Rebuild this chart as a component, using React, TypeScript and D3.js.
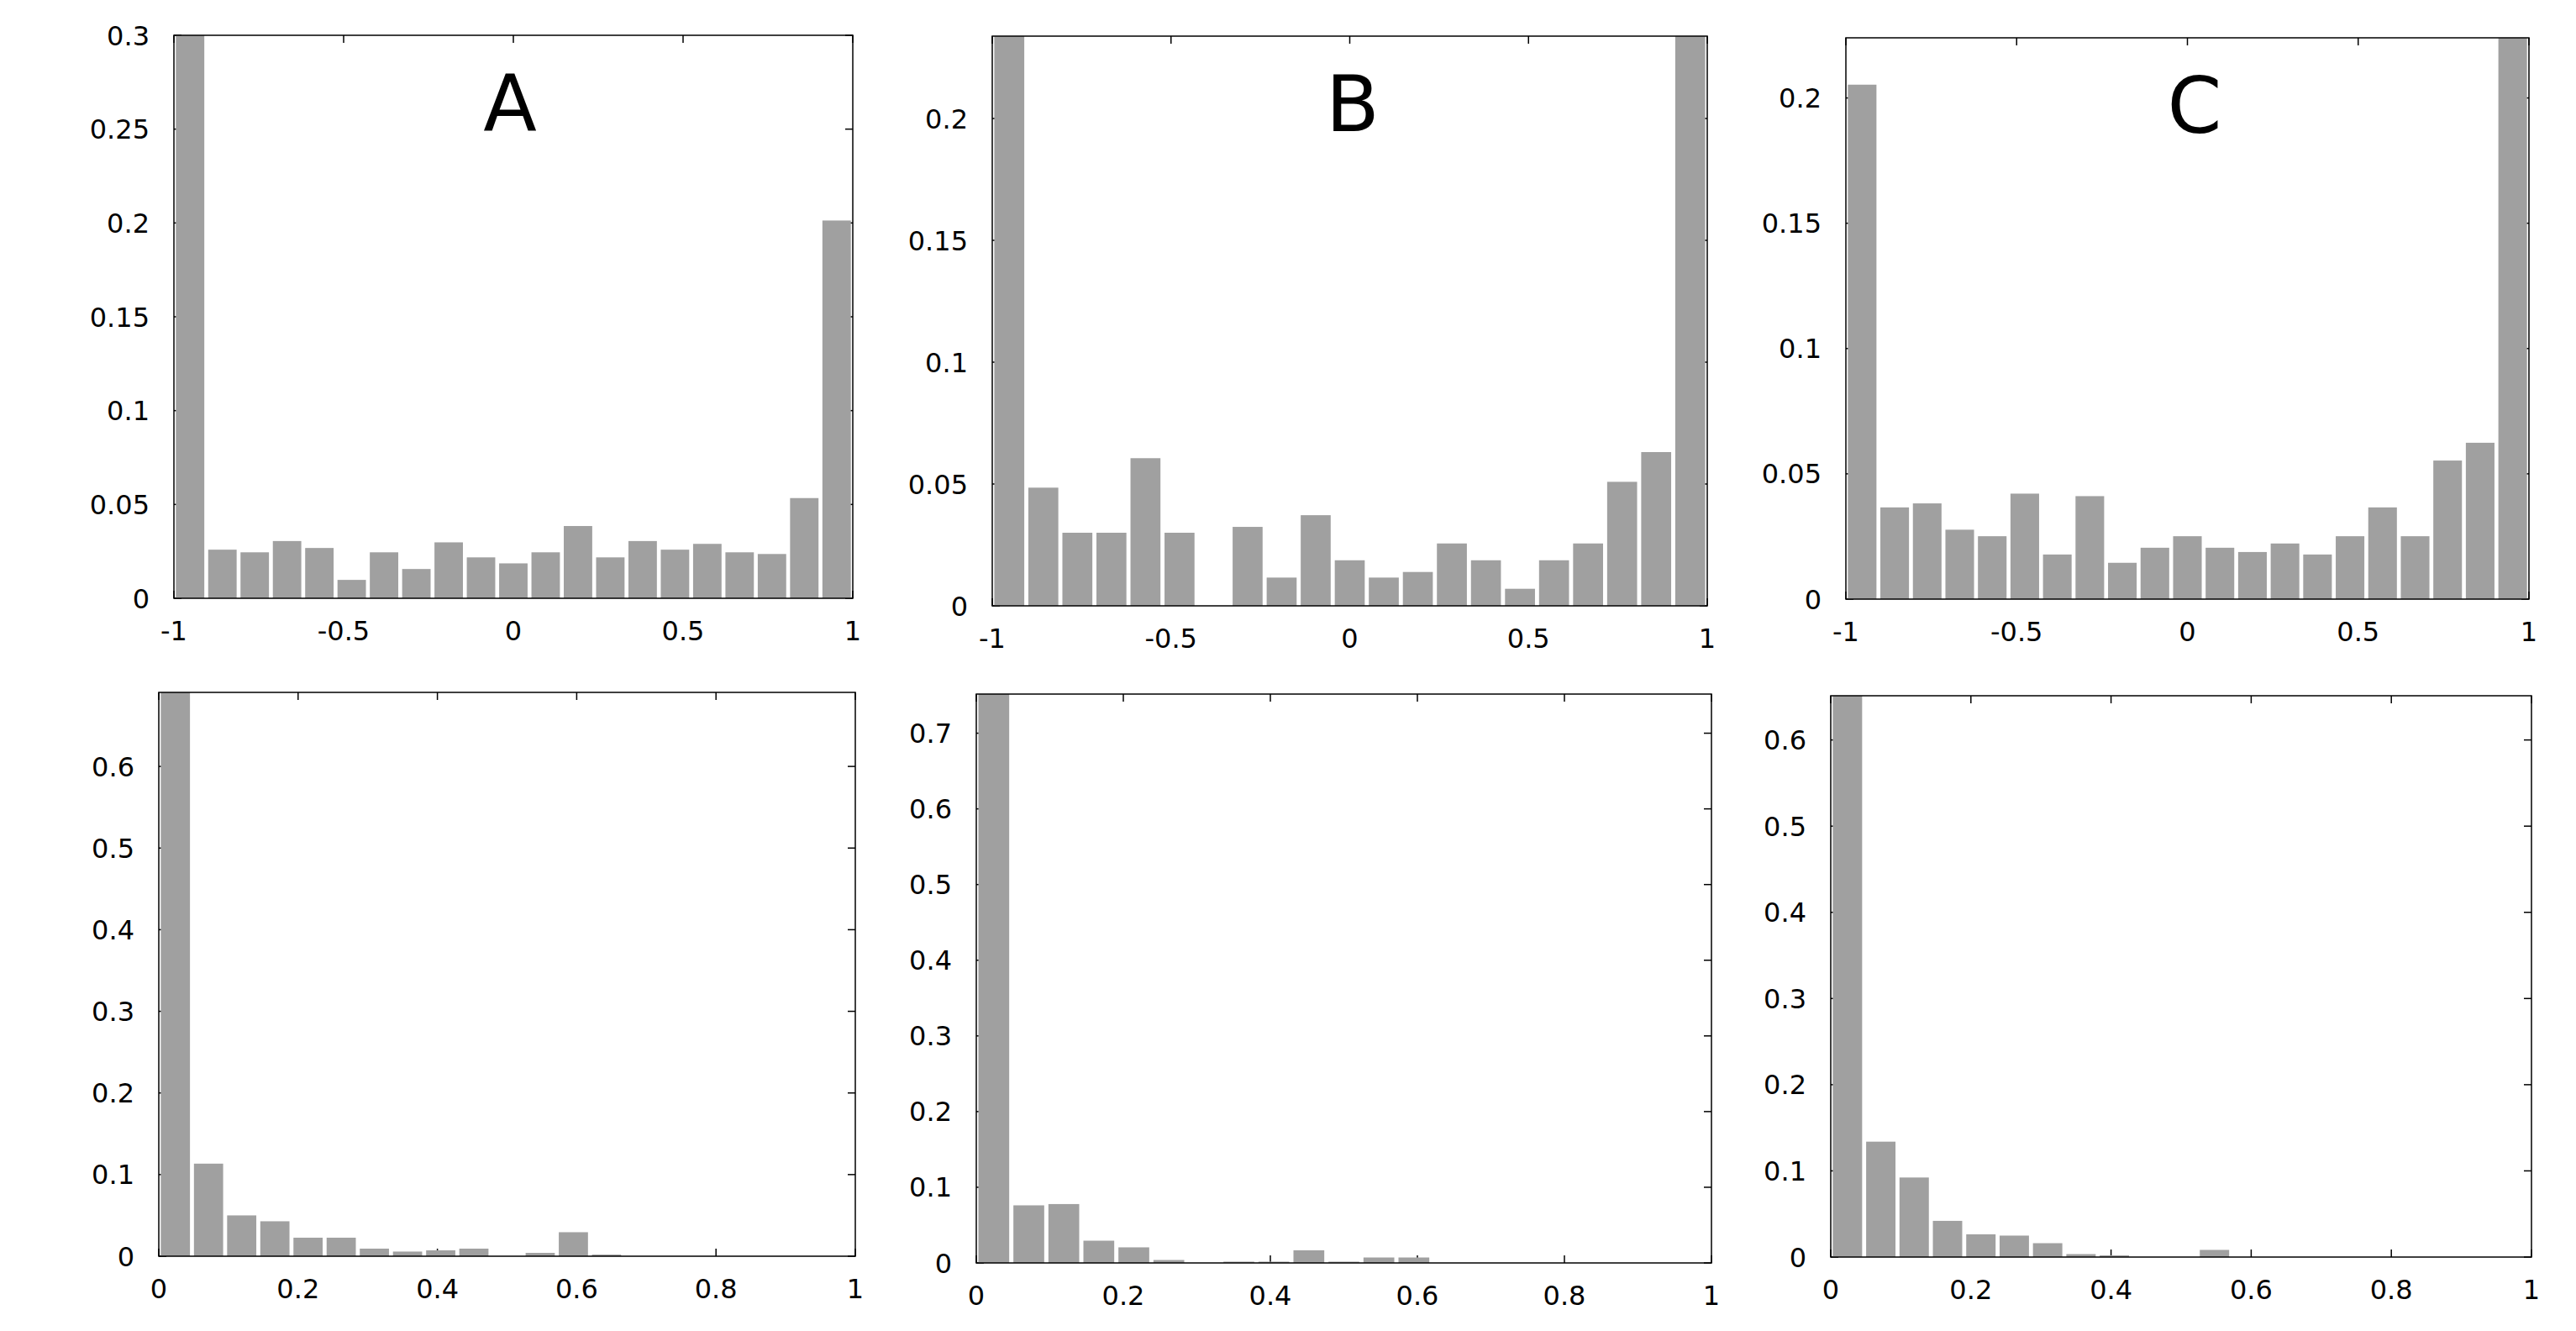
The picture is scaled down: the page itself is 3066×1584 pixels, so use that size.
import React from "react";
import * as d3 from "d3";

// 21 bins per histogram
const binCount = 21;

// top row, x from -1 to 1
const topA = [0.33, 0.0259, 0.0245, 0.0305, 0.0268, 0.0098, 0.0245, 0.0156, 0.0298, 0.0218, 0.0186, 0.0245, 0.0385, 0.0218, 0.0305, 0.0259, 0.029, 0.0245, 0.0236, 0.0534, 0.2013];
const topB = [0.26, 0.0485, 0.030, 0.030, 0.0606, 0.030, 0, 0.0324, 0.0116, 0.0372, 0.0187, 0.0116, 0.0139, 0.0256, 0.0187, 0.0070, 0.0187, 0.0256, 0.0509, 0.0631, 0.26];
const topC = [0.2053, 0.0366, 0.0382, 0.0277, 0.0251, 0.0421, 0.0178, 0.0411, 0.0145, 0.0205, 0.0251, 0.0205, 0.0188, 0.0222, 0.0178, 0.0251, 0.0366, 0.0251, 0.0553, 0.0624, 0.25];

// bottom row, x from 0 to 1
const bottomA = [0.72, 0.1134, 0.050, 0.0428, 0.0227, 0.0227, 0.0093, 0.0057, 0.0072, 0.0093, 0, 0.0041, 0.0294, 0.002, 0, 0, 0, 0, 0, 0, 0];
const bottomB = [0.8, 0.0761, 0.0778, 0.0294, 0.0206, 0.0039, 0, 0.0017, 0.0017, 0.0167, 0.0017, 0.0072, 0.0072, 0, 0, 0, 0, 0, 0, 0, 0];
const bottomC = [0.7, 0.1339, 0.0923, 0.042, 0.0264, 0.0249, 0.0161, 0.0034, 0.002, 0, 0, 0.0083, 0, 0, 0, 0, 0, 0, 0, 0, 0];

const topXTicks = [-1, -0.5, 0, 0.5, 1];
const bottomXTicks = [0, 0.2, 0.4, 0.6, 0.8, 1];
const topATicks = [0, 0.05, 0.1, 0.15, 0.2, 0.25, 0.3];
const topBCTicks = [0, 0.05, 0.1, 0.15, 0.2];
const bottomACTicks = [0, 0.1, 0.2, 0.3, 0.4, 0.5, 0.6];
const bottomBTicks = [0, 0.1, 0.2, 0.3, 0.4, 0.5, 0.6, 0.7];

const barColor = "#a0a0a0";
const font = "'DejaVu Sans', sans-serif";

const panels = [
    {values: topA, xDomain: [-1, 1], yMax: 0.3, xTicks: topXTicks, yTicks: topATicks, label: "A", labelAt: -0.01,
        box: {x0: 207, x1: 1015, y0: 42, y1: 712}},
    {values: topB, xDomain: [-1, 1], yMax: 0.2338, xTicks: topXTicks, yTicks: topBCTicks, label: "B", labelAt: 0.008,
        box: {x0: 1181, x1: 2032, y0: 43, y1: 721}},
    {values: topC, xDomain: [-1, 1], yMax: 0.224, xTicks: topXTicks, yTicks: topBCTicks, label: "C", labelAt: 0.021,
        box: {x0: 2197, x1: 3010, y0: 45, y1: 713}},
    {values: bottomA, xDomain: [0, 1], yMax: 0.6907, xTicks: bottomXTicks, yTicks: bottomACTicks, label: "", labelAt: 0,
        box: {x0: 189, x1: 1018, y0: 824, y1: 1495}},
    {values: bottomB, xDomain: [0, 1], yMax: 0.7517, xTicks: bottomXTicks, yTicks: bottomBTicks, label: "", labelAt: 0,
        box: {x0: 1162, x1: 2037, y0: 826, y1: 1503}},
    {values: bottomC, xDomain: [0, 1], yMax: 0.6513, xTicks: bottomXTicks, yTicks: bottomACTicks, label: "", labelAt: 0,
        box: {x0: 2179, x1: 3013, y0: 828, y1: 1496}},
];

const fmt = (d: number) => String(+d.toFixed(3));

const tickLen = 9;

const Histogram = ({p}: { p: typeof panels[number] }) => {
    const w = p.box.x1 - p.box.x0;
    const h = p.box.y1 - p.box.y0;

    const x = d3.scaleLinear().domain(p.xDomain).range([0, w]);
    const y = d3.scaleLinear().domain([0, p.yMax]).range([h, 0]).clamp(true);
    const band = d3
        .scaleBand<number>()
        .domain(d3.range(binCount))
        .range([0, w])
        .paddingInner(0.12)
        .paddingOuter(0.06);

    return (
        <g transform={`translate(${p.box.x0},${p.box.y0})`}>
            {/* ticks on all four sides, pointing in */}
            <g stroke="#000" strokeWidth={1.5}>
                {p.yTicks.map(t => (
                    <g key={"y" + t}>
                        <line x1={0} x2={tickLen} y1={y(t)} y2={y(t)}/>
                        <line x1={w} x2={w - tickLen} y1={y(t)} y2={y(t)}/>
                    </g>
                ))}
                {p.xTicks.map(t => (
                    <g key={"x" + t}>
                        <line x1={x(t)} x2={x(t)} y1={h} y2={h - tickLen}/>
                        <line x1={x(t)} x2={x(t)} y1={0} y2={tickLen}/>
                    </g>
                ))}
            </g>
            {p.values.map((v, i) => (
                <rect
                    key={i}
                    x={band(i)}
                    width={band.bandwidth()}
                    y={y(v)}
                    height={h - y(v)}
                    fill={barColor}
                />
            ))}
            <rect x={0} y={0} width={w} height={h} fill="none" stroke="#000" strokeWidth={1.5}/>
            <g fontFamily={font} fontSize={32} fill="#000">
                {p.yTicks.map(t => (
                    <text key={"yl" + t} x={-29} y={y(t)} dy="0.36em" textAnchor="end">{fmt(t)}</text>
                ))}
                {p.xTicks.map(t => (
                    <text key={"xl" + t} x={x(t)} y={h + 50} textAnchor="middle">{fmt(t)}</text>
                ))}
            </g>
            {p.label && (
                <text x={x(p.labelAt)} y={113} textAnchor="middle" fontFamily={font} fontSize={93} fill="#000">
                    {p.label}
                </text>
            )}
        </g>
    );
};

export default function App() {
    return (
        <svg
            width={3066}
            height={1584}
            style={{position: "absolute", left: 0, top: 0, display: "block", background: "#fff"}}
        >
            <rect width={3066} height={1584} fill="#fff"/>
            {panels.map((p, i) => <Histogram key={i} p={p}/>)}
        </svg>
    );
}
